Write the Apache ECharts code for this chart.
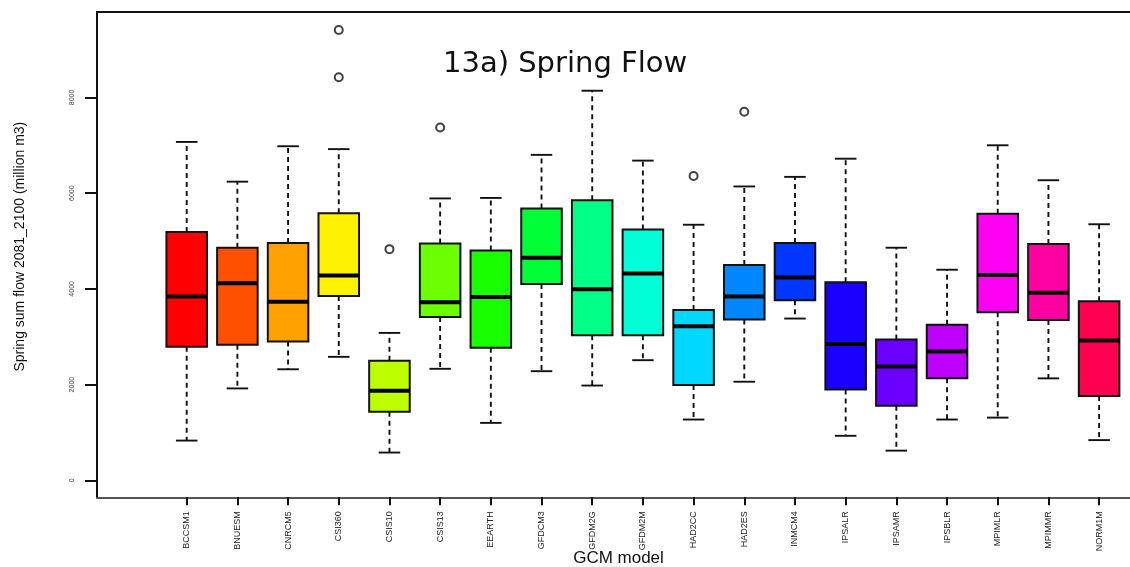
<!DOCTYPE html>
<html>
<head>
<meta charset="utf-8">
<title>13a) Spring Flow</title>
<script src="https://cdn.jsdelivr.net/npm/echarts@6/dist/echarts.min.js"></script>
<style>
  html, body { margin: 0; padding: 0; background: #ffffff; }
  #chart { width: 1130px; height: 567px; }
</style>
</head>
<body>
<div id="chart"></div>
<script>
// GCM models on the x axis
const models = ['BCCSM1', 'BNUESM', 'CNRCM5', 'CSI360', 'CSIS10', 'CSIS13', 'EEARTH',
  'GFDCM3', 'GFDM2G', 'GFDM2M', 'HAD2CC', 'HAD2ES', 'INMCM4', 'IPSALR', 'IPSAMR',
  'IPSBLR', 'MPIMLR', 'MPIMMR', 'NORM1M'];

// Five-number summaries of spring sum flow 2081-2100 (million m3)
const whiskerLow = [830, 1920, 2320, 2580, 580, 2330, 1200, 2280, 1980, 2510, 1270, 2060, 3380, 930, 620, 1270, 1310, 2130, 840];
const quartile1  = [2790, 2830, 2900, 3850, 1430, 3410, 2770, 4100, 3030, 3030, 1990, 3360, 3760, 1900, 1560, 2130, 3510, 3350, 1760];
const medians    = [3840, 4120, 3730, 4280, 1870, 3720, 3830, 4650, 3990, 4320, 3220, 3840, 4240, 2850, 2380, 2690, 4290, 3920, 2920];
const quartile3  = [5190, 4860, 4960, 5580, 2500, 4950, 4800, 5680, 5850, 5240, 3560, 4500, 4960, 4140, 2940, 3250, 5570, 4940, 3740];
const whiskerHigh= [7070, 6240, 6980, 6920, 3080, 5890, 5900, 6800, 8140, 6680, 5340, 6140, 6340, 6720, 4860, 4400, 7000, 6270, 5350];

// Points beyond the whiskers: [model, value]
const outliers = [['CSI360', 9410], ['CSI360', 8420], ['CSIS10', 4830], ['CSIS13', 7370], ['HAD2CC', 6360], ['HAD2ES', 7700]];

// Box fills, one hue per model around the colour wheel
const boxColors = ['#FF0000', '#FF5000', '#FFA100', '#FFF200', '#BDFF00', '#6BFF00', '#1AFF00',
  '#00FF36', '#00FF87', '#00FFD7', '#00D7FF', '#0087FF', '#0036FF', '#1A00FF', '#6B00FF',
  '#BD00FF', '#FF00F2', '#FF00A1', '#FF0050'];

// Y axis tick values
const yTicks = [0, 2000, 4000, 6000, 8000];

const Y_MIN = -355, Y_MAX = 9785;

const boxRows = models.map((m, i) => [i, whiskerLow[i], quartile1[i], medians[i], quartile3[i], whiskerHigh[i]]);

function renderBox(params, api) {
  const i = api.value(0);
  const lo = api.coord([i, api.value(1)]);
  const q1 = api.coord([i, api.value(2)]);
  const md = api.coord([i, api.value(3)]);
  const q3 = api.coord([i, api.value(4)]);
  const hi = api.coord([i, api.value(5)]);
  const band = api.size([1, 0])[0];
  const bw = band * 0.8;
  const cw = bw * 0.53;
  const x = lo[0];
  const dash = { stroke: '#111', lineWidth: 1.9, lineDash: [5, 4] };
  const solid = { stroke: '#111', lineWidth: 1.9 };
  return {
    type: 'group',
    children: [
      { type: 'line', shape: { x1: x, y1: q3[1], x2: x, y2: hi[1] }, style: dash },
      { type: 'line', shape: { x1: x, y1: q1[1], x2: x, y2: lo[1] }, style: dash },
      { type: 'line', shape: { x1: x - cw / 2, y1: hi[1], x2: x + cw / 2, y2: hi[1] }, style: solid },
      { type: 'line', shape: { x1: x - cw / 2, y1: lo[1], x2: x + cw / 2, y2: lo[1] }, style: solid },
      { type: 'rect', shape: { x: x - bw / 2, y: q3[1], width: bw, height: q1[1] - q3[1] },
        style: { fill: boxColors[i], stroke: '#111', lineWidth: 2 } },
      { type: 'line', shape: { x1: x - bw / 2, y1: md[1], x2: x + bw / 2, y2: md[1] },
        style: { stroke: '#000', lineWidth: 4 } }
    ]
  };
}

const chart = echarts.init(document.getElementById('chart'), null, { renderer: 'canvas' });

chart.setOption({
  backgroundColor: '#ffffff',
  animation: false,
  title: {
    text: '13a) Spring Flow',
    left: 438,
    top: 45,
    textStyle: { fontFamily: 'DejaVu Sans', fontSize: 29, fontWeight: 'normal', color: '#111' }
  },
  grid: [
    { left: 97, top: 12, right: -10, bottom: 69.7, outerBoundsMode: 'none', containLabel: false },
    { left: 161.35, top: 12, width: 963.1, bottom: 69.7, outerBoundsMode: 'none', containLabel: false }
  ],
  xAxis: [
    {
      gridIndex: 0, type: 'value', position: 'bottom', min: 0, max: 1,
      axisLine: { show: true, onZero: false, lineStyle: { color: '#555', width: 2 } },
      axisTick: { show: false }, axisLabel: { show: false }, splitLine: { show: false },
      name: 'GCM model', nameLocation: 'middle', nameGap: 53,
      nameTextStyle: { fontFamily: 'Liberation Sans', fontSize: 17, color: '#111' }
    },
    {
      gridIndex: 0, type: 'value', position: 'top', min: 0, max: 1,
      axisLine: { show: true, onZero: false, lineStyle: { color: '#111', width: 2 } },
      axisTick: { show: false }, axisLabel: { show: false }, splitLine: { show: false }
    },
    {
      gridIndex: 1, type: 'category', data: models, boundaryGap: true, position: 'bottom',
      axisLine: { show: false, onZero: false },
      axisTick: { show: true, alignWithLabel: true, length: 8, lineStyle: { color: '#111', width: 2 } },
      axisLabel: { rotate: 90, margin: 14, fontFamily: 'Liberation Sans Narrow, Liberation Sans', fontSize: 9, color: '#222', interval: 0 },
      splitLine: { show: false }
    }
  ],
  yAxis: [
    {
      gridIndex: 0, type: 'value', min: Y_MIN, max: Y_MAX,
      axisLine: { show: true, onZero: false, lineStyle: { color: '#111', width: 2 } },
      axisTick: { show: true, length: 12, customValues: yTicks, lineStyle: { color: '#111', width: 2 } },
      axisLabel: {
        show: true, rotate: 90, margin: 21, customValues: yTicks,
        formatter: (v) => String(v),
        fontFamily: 'Liberation Sans Narrow, Liberation Sans', fontSize: 7, color: '#444'
      },
      splitLine: { show: false },
      name: 'Spring sum flow 2081_2100 (million m3)', nameLocation: 'middle', nameGap: 70,
      nameTextStyle: { fontFamily: 'Liberation Sans', fontSize: 14, color: '#111', padding: [0, 0, 0, 16] }
    },
    {
      gridIndex: 1, type: 'value', min: Y_MIN, max: Y_MAX, show: false
    }
  ],
  series: [
    {
      type: 'custom',
      xAxisIndex: 2, yAxisIndex: 1,
      renderItem: renderBox,
      encode: { x: 0, y: [1, 2, 3, 4, 5] },
      data: boxRows,
      z: 2
    },
    {
      type: 'scatter',
      xAxisIndex: 2, yAxisIndex: 1,
      symbol: 'circle', symbolSize: 8,
      itemStyle: { color: '#ffffff', borderColor: '#111', borderWidth: 2 },
      data: outliers,
      z: 3
    }
  ]
});
</script>
</body>
</html>
